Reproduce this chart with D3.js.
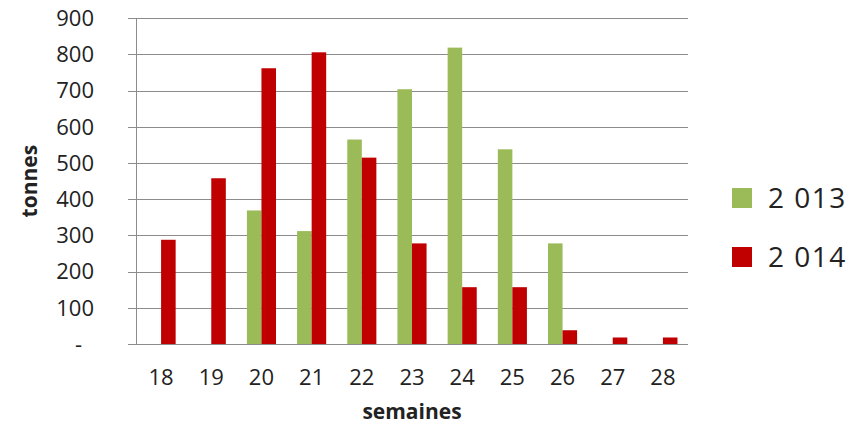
<!DOCTYPE html>
<html><head><meta charset="utf-8">
<script src="https://cdn.jsdelivr.net/npm/d3@7"></script>
<style>body{margin:0;background:#fff}svg{display:block}text{font-family:"Open Sans",sans-serif;fill:#222}</style>
</head><body><svg id="c" width="860" height="426"></svg>
<script>
const weeks = ["18","19","20","21","22","23","24","25","26","27","28"];
const series = ["2 013","2 014"];
const v2013 = [0,0,369,312,565,704,819,538,278,0,0];
const v2014 = [288,458,762,806,515,278,157,157,38,18,18];
const yTicks = [0,100,200,300,400,500,600,700,800,900];
const colors = ["#9BBB59","#C00000"];

const svg = d3.select("#c");
const L=136,R=688,T=18.3,B=344;
const x = d3.scaleBand().domain(weeks).range([L,R]).padding(0);
const y = d3.scaleLinear().domain([0,900]).range([B,T]);
const bw = x.bandwidth()*0.58;
const x1 = d3.scaleBand().domain(series).range([-bw/2,bw/2]).padding(0);

// grid + y labels
const g = svg.append("g");
g.selectAll("line.grid").data(yTicks).join("line")
  .attr("x1",128).attr("x2",R).attr("y1",d=>Math.round(y(d))+0.5).attr("y2",d=>Math.round(y(d))+0.5)
  .attr("stroke","#8c8c8c").attr("stroke-width",1);
g.append("line").attr("x1",L+0.5).attr("x2",L+0.5).attr("y1",Math.round(T)).attr("y2",B+0.5)
  .attr("stroke","#8c8c8c");
g.selectAll("text.yl").data(yTicks).join("text")
  .attr("x",d=>d===0?82:94).attr("y",d=>y(d)).attr("dy","0.35em")
  .attr("text-anchor","end").attr("font-size",22)
  .text(d=>d===0?"-":d);

// bars
const data = [v2013,v2014];
data.forEach((vals,si)=>{
  svg.append("g").selectAll("rect").data(weeks).join("rect")
    .attr("x",(w)=>x(w)+x.bandwidth()/2+x1(series[si]))
    .attr("width",x1.bandwidth())
    .attr("y",(w,i)=>y(vals[i]))
    .attr("height",(w,i)=>B-y(vals[i]))
    .attr("fill",colors[si]);
});
svg.append("line").attr("x1",128).attr("x2",R).attr("y1",B+0.5).attr("y2",B+0.5).attr("stroke","#8c8c8c");

// x labels
svg.append("g").selectAll("text").data(weeks).join("text")
  .attr("x",w=>x(w)+x.bandwidth()/2).attr("y",385)
  .attr("text-anchor","middle").attr("font-size",22).text(w=>w);

// axis titles
svg.append("text").attr("x",(L+R)/2).attr("y",419).attr("text-anchor","middle")
  .attr("font-size",21).attr("font-weight","bold").text("semaines");
svg.append("text").attr("transform",`translate(37,${(T+B)/2}) rotate(-90)`)
  .attr("text-anchor","middle").attr("font-size",21).attr("font-weight","bold").text("tonnes");

// legend
const leg = svg.append("g");
series.forEach((s,i)=>{
  const yy = 188 + i*59;
  leg.append("rect").attr("x",732).attr("y",yy).attr("width",20).attr("height",20).attr("fill",colors[i]);
  leg.append("text").attr("x",768).attr("y",yy+19.5).attr("font-size",28).attr("letter-spacing",1.5).text(s);
});
</script></body></html>
